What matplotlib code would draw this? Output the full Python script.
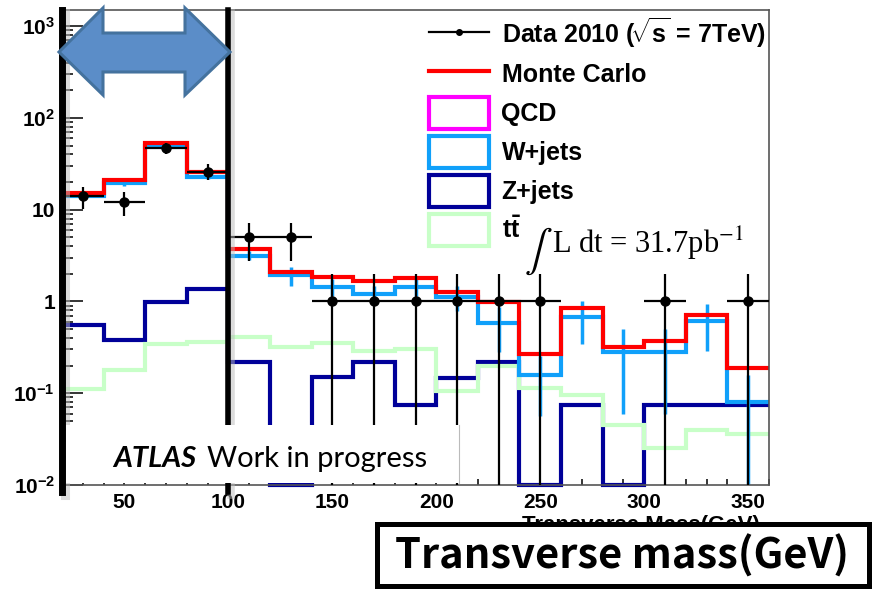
import matplotlib.pyplot as plt
import numpy as np
from matplotlib.lines import Line2D
from matplotlib.patches import Patch, Polygon, Rectangle
from matplotlib.ticker import LogLocator, MultipleLocator, NullFormatter
from matplotlib.transforms import offset_copy

plt.rcParams["font.family"] = ["Liberation Sans", "DejaVu Sans"]
plt.rcParams["mathtext.fontset"] = "custom"
plt.rcParams["mathtext.rm"] = "Liberation Sans:bold"
plt.rcParams["mathtext.it"] = "Liberation Sans:bold"
plt.rcParams["mathtext.bf"] = "Liberation Sans:bold"

# transverse mass bins (GeV)
bin_edges = [20, 40, 60, 80, 100, 120, 140, 160, 180, 200, 220, 240, 260,
             280, 300, 320, 340, 360]

monte_carlo = [15.3, 21, 53, 26, 3.7, 2.12, 1.87, 1.69, 1.78, 1.28, 0.98,
               0.27, 0.84, 0.32, 0.37, 0.72, 0.187]
w_jets = [14, 19.5, 50, 23, 3.16, 1.92, 1.45, 1.22, 1.45, 1.13, 0.58,
          0.157, 0.67, 0.28, 0.28, 0.61, 0.08]
w_jets_err = [1.0, 1.2, 2.0, 1.5, 0.35, 0.45, 0.3, 0.25, 0.3, 0.35, 0.3,
              0.1, 0.33, 0.22, 0.22, 0.32, 0.08]
z_jets = [0.56, 0.376, 0.98, 1.38, 0.217, 0, 0.149, 0.217, 0.074, 0.146,
          0.22, 0, 0.074, 0, 0.074, 0.074, 0.074]
ttbar = [0.11, 0.178, 0.34, 0.36, 0.41, 0.32, 0.35, 0.29, 0.30, 0.105,
         0.2, 0.113, 0.095, 0.045, 0.025, 0.04, 0.036]

data_x = [30, 50, 70, 90, 110, 130, 150, 170, 190, 210, 230, 250, 310, 350]
data_counts = [14, 12, 47, 26, 5, 5, 1, 1, 1, 1, 1, 1, 1, 1]

x_ticks = [50, 100, 150, 200, 250, 300, 350]
x_labels = ["50", "100", "150", "200", "250", "300", "350"]
y_ticks = [0.01, 0.1, 1, 10, 100, 1000]
y_labels = ["$\\mathbf{10^{-2}}$", "$\\mathbf{10^{-1}}$", "1", "10",
            "$\\mathbf{10^{2}}$", "$\\mathbf{10^{3}}$"]

W, H = 881, 589
YMIN, YMAX = 0.01, 1500


def px(x, y):
    # pixel position (from top left) -> figure fraction
    return x / W, 1 - y / H


fig = plt.figure(figsize=(W / 100, H / 100), dpi=100)
ax = fig.add_axes([62 / W, 1 - 485 / H, 707 / W, 475 / H])
ax.set_yscale("log")

centers = [(a + b) / 2 for a, b in zip(bin_edges[:-1], bin_edges[1:])]

ax.stairs(np.maximum(z_jets, YMIN), bin_edges, baseline=None, color="#000099",
          lw=3, zorder=2, clip_on=False)
ax.stairs(ttbar, bin_edges, baseline=None, color="#c8ffc8", lw=3, zorder=2.1)
ax.stairs(w_jets, bin_edges, baseline=None, color="#10a0fa", lw=3, zorder=2.2)
ax.errorbar(centers, w_jets, yerr=w_jets_err, fmt="none", ecolor="#10a0fa",
            elinewidth=2.5, capsize=0, zorder=2.2)
ax.stairs(monte_carlo, bin_edges, baseline=None, color="red", lw=3, zorder=2.5)
ax.errorbar(data_x, data_counts, xerr=10, yerr=np.sqrt(data_counts), fmt="o",
            color="black", ms=6.5, elinewidth=1.6, capsize=0, zorder=3)

# thick black markers at 20 and 100 GeV, with a soft shadow
shadow = offset_copy(ax.get_xaxis_transform(), fig=fig, x=3, y=-3,
                     units="dots")
for xv, lw in [(20, 5), (100, 4)]:
    ax.plot([xv, xv], [-0.015, 1], color="#bbbbbb", lw=lw + 1.5, alpha=0.5,
            zorder=3.9, clip_on=False, transform=shadow)
    ax.axvline(xv, ymin=-0.015, ymax=1, color="black", lw=lw, zorder=4,
               clip_on=False)

ax.set_xlim(20, 360)
ax.set_ylim(YMIN, YMAX)
ax.set_xticks(x_ticks, x_labels)
ax.xaxis.set_minor_locator(MultipleLocator(10))
ax.set_yticks(y_ticks, y_labels)
ax.yaxis.set_minor_locator(LogLocator(base=10, subs=np.arange(2, 10)))
ax.yaxis.set_minor_formatter(NullFormatter())
ax.tick_params(which="both", direction="in", top=False, right=False,
               width=1.1, color="black", labelsize=15)
ax.tick_params(axis="x", which="major", length=5, pad=6)
ax.tick_params(axis="x", which="minor", length=4.5)
ax.tick_params(axis="y", which="major", length=15, pad=5)
ax.tick_params(axis="y", which="minor", length=8)
for lab in ax.get_xticklabels() + ax.get_yticklabels():
    lab.set_fontweight("bold")
for sp in ax.spines.values():
    sp.set_color("#555555")
    sp.set_linewidth(1.2)

handles = [
    Line2D([], [], color="black", lw=1.6, marker="o", ms=4),
    Line2D([], [], color="red", lw=3),
    Patch(facecolor="white", edgecolor="#ff00ff", lw=3),
    Patch(facecolor="white", edgecolor="#10a0fa", lw=3),
    Patch(facecolor="white", edgecolor="#000099", lw=3),
    Patch(facecolor="white", edgecolor="#c8ffc8", lw=3),
]
labels = ["Data 2010 ($\\!\\sqrt{s}$ = 7TeV)", "Monte Carlo", "QCD", "W+jets",
          "Z+jets", "$\\mathrm{t\\bar{t}}$"]
leg = ax.legend(handles, labels, loc="upper left",
                bbox_to_anchor=px(429, 16), bbox_transform=fig.transFigure,
                frameon=False, borderpad=0, borderaxespad=0,
                handlelength=2.4, handleheight=1.56, handletextpad=0.5,
                labelspacing=0.30, prop={"weight": "bold", "size": 18})
leg.set_zorder(7)

# luminosity
fig.text(*px(524, 262), "$\\int$", fontsize=30, math_fontfamily="stix",
         va="baseline", zorder=8)
fig.text(*px(552, 253), "L dt = 31.7pb$^{-1}$", fontsize=22,
         family="Liberation Serif", math_fontfamily="stix", va="baseline",
         zorder=8)

# original axis title, mostly hidden by the label box below
fig.text(*px(760, 531), "Transverse Mass(GeV)", fontsize=16,
         fontweight="bold", ha="right", va="baseline", zorder=1)

# double arrow across the 20-100 GeV window
arrow_pts = [(59, 52), (103, 8), (103, 33), (185, 33), (185, 8), (230, 52),
             (185, 95), (185, 72), (103, 72), (103, 95)]
fig.add_artist(Polygon([px(*p) for p in arrow_pts], closed=True,
                       facecolor="#5b8dc8", edgecolor="#44729e", lw=2.2,
                       transform=fig.transFigure, zorder=9))

# ATLAS label box
x0, y0 = px(66, 483)
x1, y1 = px(459, 425)
fig.add_artist(Rectangle((x0, y0), x1 - x0, y1 - y0, facecolor="white",
                         edgecolor="none", transform=fig.transFigure,
                         zorder=5))
fig.add_artist(Line2D([x1, x1], [y0, y1], color="#bbbbbb", lw=0.8,
                      transform=fig.transFigure, zorder=5))
atlas = fig.text(*px(113, 467), "ATLAS", fontsize=21, family="Lato",
                 fontweight="bold", fontstyle="italic", va="baseline",
                 zorder=6)
fig.canvas.draw()
bb = atlas.get_window_extent()
fig.text(bb.x1 / W + 11 / W, 1 - 467 / H, "Work in progress", fontsize=21,
         family="Lato", va="baseline", zorder=6)

# big x label box
x0, y0 = px(377, 586)
x1, y1 = px(869, 524)
fig.add_artist(Rectangle((x0, y0), x1 - x0, y1 - y0, facecolor="white",
                         edgecolor="black", lw=3.6, transform=fig.transFigure,
                         zorder=5))
fig.text(*px(622, 556), "Transverse mass(GeV)", fontsize=30,
         family=["Noto Sans CJK JP", "DejaVu Sans"], fontweight="bold",
         ha="center", va="center", zorder=6)

fig.savefig("out.png", dpi=100)
